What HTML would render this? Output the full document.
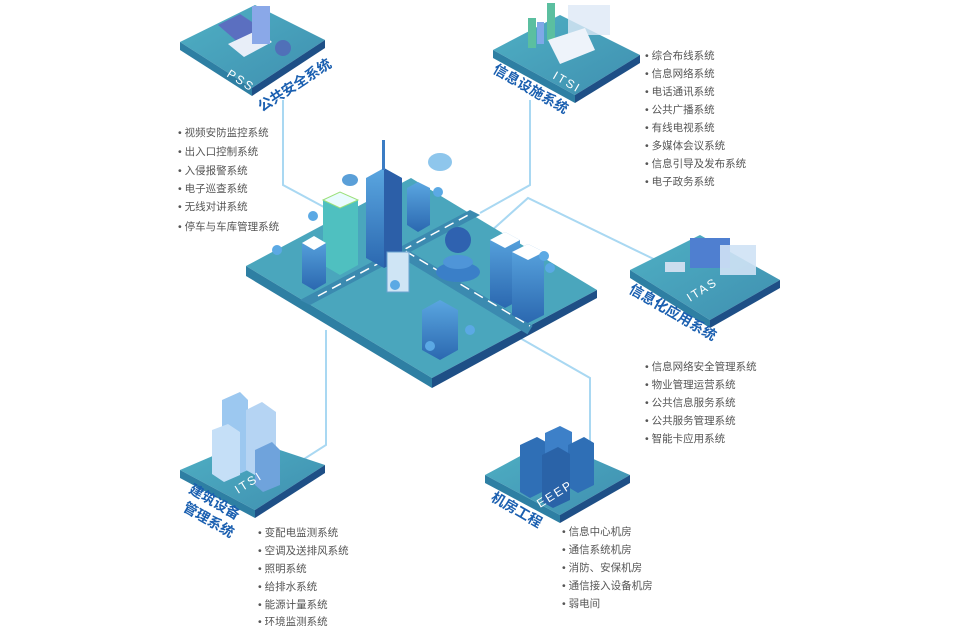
<!DOCTYPE html>
<html><head><meta charset="utf-8"><style>
body{margin:0;background:#fff;}
svg{display:block}
.t{font-family:"Liberation Sans","Noto Sans CJK SC",sans-serif;font-size:10.5px;fill:#555}
.lab{font-family:"Liberation Sans","Noto Sans CJK SC",sans-serif;font-weight:bold;fill:#1a5fb0;font-size:14px}
.en{font-family:"Liberation Sans",sans-serif;fill:#fff;font-size:12px;letter-spacing:2px}
</style></head><body>
<svg width="960" height="626" viewBox="0 0 960 626" xmlns="http://www.w3.org/2000/svg">
<defs>
<linearGradient id="pg" x1="0" y1="0" x2="1" y2="1"><stop offset="0" stop-color="#4fb0c4"/><stop offset="1" stop-color="#3f8fb0"/></linearGradient>
<linearGradient id="bd" x1="0" y1="0" x2="0" y2="1"><stop offset="0" stop-color="#5aa6e0"/><stop offset="1" stop-color="#2b68b0"/></linearGradient>
</defs>
<g fill="none" stroke="#a9d8f2" stroke-width="2">
<polyline points="283,100 283,185 335,213"/>
<polyline points="530,100 530,185 480,213"/>
<polyline points="490,232 528,198 668,266"/>
<polyline points="326,330 326,445 290,468"/>
<polyline points="520,338 590,378 590,445 560,462"/>
</g>
<!-- central platform -->
<polygon points="246,266 411,178 597,290 432,378" fill="#4aa6bd"/>
<polygon points="246,266 432,378 432,388 246,276" fill="#2e7fa3"/>
<polygon points="432,378 597,290 597,298 432,388" fill="#1e4f86"/>
<polygon points="300,300 470,210 480,215 310,305" fill="#3b8ab0"/>
<polyline points="318,296 470,214" stroke="#fff" stroke-width="1.5" stroke-dasharray="10 6"/>
<polyline points="390,245 530,330" stroke="#3b8ab0" stroke-width="10"/>
<polyline points="392,243 530,326" stroke="#fff" stroke-width="1.5" stroke-dasharray="10 6"/>
<g>
<polygon points="366,178 384,168 402,178 402,258 384,268 366,258" fill="url(#bd)"/>
<polygon points="384,168 402,178 402,258 384,268" fill="#2c5fa8"/>
<rect x="382" y="140" width="3" height="30" fill="#3b7cc4"/>
<polygon points="323,200 340,192 358,200 358,265 340,275 323,265" fill="#4fc0c0"/>
<polygon points="323,200 340,192 358,200 340,208" fill="#e9fbff" stroke="#9be07a"/>
<polygon points="302,243 314,236 326,243 326,283 314,290 302,283" fill="url(#bd)"/>
<polygon points="302,243 314,236 326,243 314,250" fill="#fff"/>
<polygon points="407,188 418,182 430,188 430,225 418,232 407,225" fill="url(#bd)"/>
<polygon points="490,240 505,232 520,240 520,300 505,308 490,300" fill="url(#bd)"/>
<polygon points="490,240 505,232 520,240 505,248" fill="#fff"/>
<polygon points="512,252 528,244 544,252 544,315 528,323 512,315" fill="url(#bd)"/>
<polygon points="512,252 528,244 544,252 528,260" fill="#fff"/>
<polygon points="422,310 440,300 458,310 458,350 440,360 422,350" fill="url(#bd)"/>
<ellipse cx="458" cy="272" rx="22" ry="10" fill="#3a7fc8"/>
<ellipse cx="458" cy="262" rx="15" ry="7" fill="#4f95d8"/>
<circle cx="458" cy="240" r="13" fill="#2f62b0"/>
<rect x="387" y="252" width="22" height="40" fill="#cfe5f5" stroke="#6aa2d0"/>
<ellipse cx="440" cy="162" rx="12" ry="9" fill="#8ec6ec"/>
<ellipse cx="350" cy="180" rx="8" ry="6" fill="#5a9fd8"/>
</g>
<g fill="#5ba9e4">
<circle cx="313" cy="216" r="5"/><circle cx="277" cy="250" r="5"/><circle cx="438" cy="192" r="5"/><circle cx="544" cy="256" r="5"/><circle cx="550" cy="268" r="5"/><circle cx="395" cy="285" r="5"/><circle cx="470" cy="330" r="5"/><circle cx="430" cy="346" r="5"/>
</g>
<!-- PSS platform -->
<polygon points="180,42 255,5 325,40 252,88" fill="url(#pg)"/>
<polygon points="180,42 252,88 252,96 180,50" fill="#2e7fa3"/>
<polygon points="252,88 325,40 325,48 252,96" fill="#1e4f86"/>
<polygon points="218,25 240,14 264,30 240,44" fill="#5b6fc0"/>
<polygon points="228,44 258,30 272,42 244,57" fill="#e8eef8"/>
<rect x="252" y="6" width="18" height="38" fill="#8aa8e8"/>
<circle cx="283" cy="48" r="8" fill="#5070b8"/>
<text class="en" transform="translate(226,76) rotate(32)">PSS</text>
<text class="lab" transform="translate(262,112) rotate(-33)">公共安全系统</text>
<!-- ITSI top -->
<polygon points="493,50 560,15 640,55 575,95" fill="url(#pg)"/>
<polygon points="493,50 575,95 575,103 493,58" fill="#2e7fa3"/>
<polygon points="575,95 640,55 640,63 575,103" fill="#1e4f86"/>
<rect x="528" y="18" width="8" height="30" fill="#5bbfa0"/><rect x="547" y="3" width="8" height="38" fill="#5bbfa0"/><rect x="537" y="22" width="7" height="22" fill="#7fa8e8"/>
<rect x="568" y="5" width="42" height="30" fill="#dde8f6" opacity=".8"/>
<polygon points="548,40 585,28 595,50 560,64" fill="#eef3fa"/>
<text class="lab" transform="translate(492,72) rotate(30)">信息设施系统</text>
<text class="en" transform="translate(552,78) rotate(30)">ITSI</text>
<!-- ITAS -->
<polygon points="630,270 700,235 780,280 710,320" fill="url(#pg)"/>
<polygon points="630,270 710,320 710,328 630,278" fill="#2e7fa3"/>
<polygon points="710,320 780,280 780,288 710,328" fill="#1e4f86"/>
<rect x="690" y="238" width="40" height="30" fill="#4f7fd0"/>
<rect x="720" y="245" width="36" height="30" fill="#cfe2f5" opacity=".9"/>
<rect x="665" y="262" width="20" height="10" fill="#cde"/>
<text class="lab" transform="translate(628,292) rotate(30)">信息化应用系统</text>
<text class="en" transform="translate(690,302) rotate(-32)">ITAS</text>
<!-- bottom-left -->
<polygon points="180,470 250,440 325,465 255,510" fill="url(#pg)"/>
<polygon points="180,470 255,510 255,518 180,478" fill="#2e7fa3"/>
<polygon points="255,510 325,465 325,473 255,518" fill="#1e4f86"/>
<polygon points="222,400 240,392 248,400 248,470 230,478 222,470" fill="#9cc8f0"/>
<polygon points="212,430 228,424 240,432 240,475 224,482 212,474" fill="#c5dff7"/>
<polygon points="246,410 262,402 276,412 276,470 260,478 246,470" fill="#b5d4f3"/>
<polygon points="255,450 272,442 280,450 280,485 263,492 255,485" fill="#6fa3dc"/>
<text class="lab" transform="translate(188,492) rotate(30)">建筑设备</text>
<text class="lab" transform="translate(182,510) rotate(30)">管理系统</text>
<text class="en" transform="translate(238,494) rotate(-32)">ITSI</text>
<!-- EEEP -->
<polygon points="485,475 550,440 630,475 560,515" fill="url(#pg)"/>
<polygon points="485,475 560,515 560,523 485,483" fill="#2e7fa3"/>
<polygon points="560,515 630,475 630,483 560,523" fill="#1e4f86"/>
<polygon points="520,445 537,437 546,442 546,490 530,498 520,492" fill="#2f6fb6"/>
<polygon points="545,433 560,426 572,432 572,478 556,486 545,480" fill="#3d80c8"/>
<polygon points="568,445 584,437 594,443 594,485 578,493 568,487" fill="#2f6fb6"/>
<polygon points="542,455 558,447 570,454 570,500 553,508 542,502" fill="#2a63a8"/>
<text class="lab" transform="translate(490,500) rotate(30)">机房工程</text>
<text class="en" transform="translate(540,508) rotate(-32)">EEEP</text>
<g class="t">
<text x="178" y="136">• 视频安防监控系统</text>
<text x="178" y="155">• 出入口控制系统</text>
<text x="178" y="174">• 入侵报警系统</text>
<text x="178" y="192">• 电子巡查系统</text>
<text x="178" y="210">• 无线对讲系统</text>
<text x="178" y="230">• 停车与车库管理系统</text>
<text x="645" y="59">• 综合布线系统</text>
<text x="645" y="77">• 信息网络系统</text>
<text x="645" y="95">• 电话通讯系统</text>
<text x="645" y="113">• 公共广播系统</text>
<text x="645" y="131">• 有线电视系统</text>
<text x="645" y="149">• 多媒体会议系统</text>
<text x="645" y="167">• 信息引导及发布系统</text>
<text x="645" y="185">• 电子政务系统</text>
<text x="645" y="370">• 信息网络安全管理系统</text>
<text x="645" y="388">• 物业管理运营系统</text>
<text x="645" y="406">• 公共信息服务系统</text>
<text x="645" y="424">• 公共服务管理系统</text>
<text x="645" y="442">• 智能卡应用系统</text>
<text x="258" y="536">• 变配电监测系统</text>
<text x="258" y="554">• 空调及送排风系统</text>
<text x="258" y="572">• 照明系统</text>
<text x="258" y="590">• 给排水系统</text>
<text x="258" y="608">• 能源计量系统</text>
<text x="258" y="625">• 环境监测系统</text>
<text x="562" y="535">• 信息中心机房</text>
<text x="562" y="553">• 通信系统机房</text>
<text x="562" y="571">• 消防、安保机房</text>
<text x="562" y="589">• 通信接入设备机房</text>
<text x="562" y="607">• 弱电间</text>
</g>
</svg>
</body></html>
